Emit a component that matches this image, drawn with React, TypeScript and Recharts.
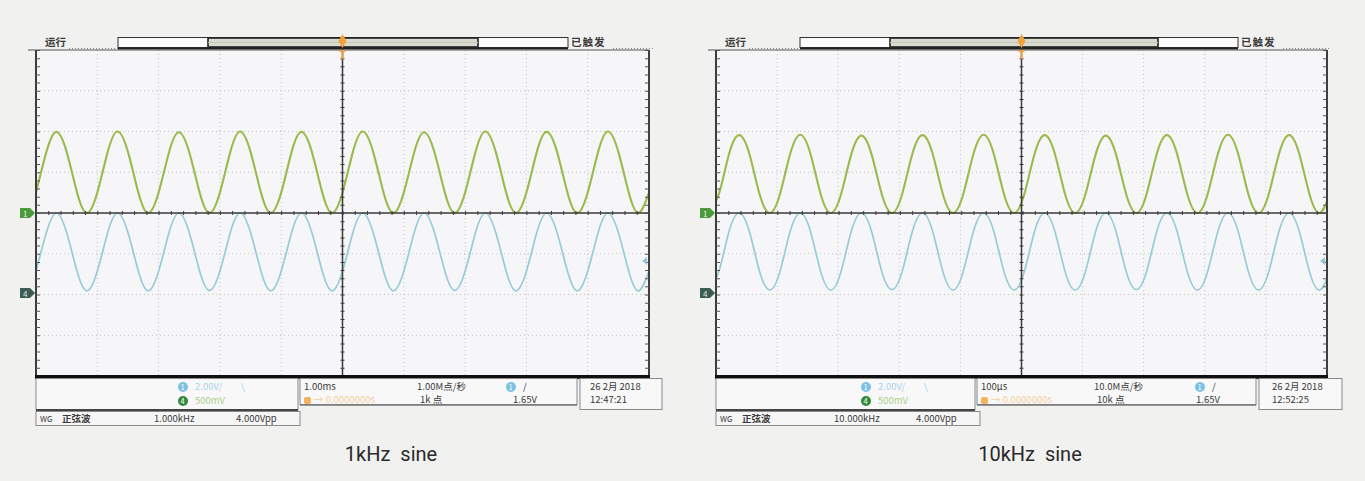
import React from 'react';
import { LineChart, Line, XAxis, YAxis } from 'recharts';

// ---------- data (values in screen divisions, read from the captures) ----------
const time1kHzMs = [
  0, 0.17, 0.33, 0.5, 0.67, 0.83,
  1, 1.17, 1.33, 1.5, 1.67, 1.83,
  2, 2.17, 2.33, 2.5, 2.67, 2.83,
  3, 3.17, 3.33, 3.5, 3.67, 3.83,
  4, 4.17, 4.33, 4.5, 4.67, 4.83,
  5, 5.17, 5.33, 5.5, 5.67, 5.83,
  6, 6.17, 6.33, 6.5, 6.67, 6.83,
  7, 7.17, 7.33, 7.5, 7.67, 7.83,
  8, 8.17, 8.33, 8.5, 8.67, 8.83,
  9, 9.17, 9.33, 9.5, 9.67, 9.83,
  10,
];
const green1kHz = [
  0.5, 1.5, 1.99, 1.5, 0.5, 0,
  0.5, 1.5, 2.0, 1.5, 0.5, 0,
  0.5, 1.49, 1.98, 1.49, 0.5, 0,
  0.5, 1.5, 2.0, 1.5, 0.5, 0,
  0.5, 1.5, 1.99, 1.5, 0.5, 0,
  0.5, 1.5, 2.0, 1.5, 0.5, 0,
  0.5, 1.49, 1.98, 1.49, 0.5, 0,
  0.5, 1.5, 2.0, 1.5, 0.5, 0,
  0.5, 1.5, 1.99, 1.5, 0.5, 0,
  0.5, 1.5, 2.0, 1.5, 0.5, 0,
  0.5,
];
const blue1kHz = [
  -1.43, -0.48, 0, -0.48, -1.43, -1.91,
  -1.43, -0.48, 0, -0.48, -1.43, -1.91,
  -1.43, -0.48, 0, -0.48, -1.43, -1.9,
  -1.43, -0.48, 0, -0.48, -1.43, -1.91,
  -1.43, -0.48, 0, -0.48, -1.43, -1.91,
  -1.43, -0.48, 0, -0.48, -1.43, -1.91,
  -1.43, -0.48, 0, -0.48, -1.43, -1.9,
  -1.43, -0.48, 0, -0.48, -1.43, -1.91,
  -1.43, -0.48, 0, -0.48, -1.43, -1.91,
  -1.43, -0.48, 0, -0.48, -1.43, -1.91,
  -1.43,
];

const time10kHzUs = [
  -12,
  5, 21, 38, 55, 71, 88,
  105, 121, 138, 155, 171, 188,
  205, 221, 238, 255, 271, 288,
  305, 321, 338, 355, 371, 388,
  405, 421, 438, 455, 471, 488,
  505, 521, 538, 555, 571, 588,
  605, 621, 638, 655, 671, 688,
  705, 721, 738, 755, 771, 788,
  805, 821, 838, 855, 871, 888,
  905, 921, 938, 955, 971, 988,
  1005,
];
const green10kHz = [
  0,
  0.48, 1.43, 1.91, 1.43, 0.48, 0,
  0.48, 1.43, 1.92, 1.43, 0.48, 0,
  0.48, 1.42, 1.9, 1.42, 0.48, 0,
  0.48, 1.43, 1.91, 1.43, 0.48, 0,
  0.48, 1.43, 1.92, 1.43, 0.48, 0,
  0.48, 1.43, 1.91, 1.43, 0.48, 0,
  0.48, 1.42, 1.9, 1.42, 0.48, 0,
  0.48, 1.43, 1.91, 1.43, 0.48, 0,
  0.48, 1.43, 1.92, 1.43, 0.48, 0,
  0.48, 1.43, 1.91, 1.43, 0.48, 0,
  0.48,
];
const blue10kHz = [
  -1.89,
  -1.42, -0.47, 0, -0.47, -1.42, -1.89,
  -1.42, -0.47, 0, -0.47, -1.42, -1.89,
  -1.42, -0.47, 0, -0.47, -1.42, -1.88,
  -1.42, -0.47, 0, -0.47, -1.42, -1.89,
  -1.42, -0.47, 0, -0.47, -1.42, -1.89,
  -1.42, -0.47, 0, -0.47, -1.42, -1.89,
  -1.42, -0.47, 0, -0.47, -1.42, -1.88,
  -1.42, -0.47, 0, -0.47, -1.42, -1.89,
  -1.42, -0.47, 0, -0.47, -1.42, -1.89,
  -1.42, -0.47, 0, -0.47, -1.42, -1.89,
  -1.42,
];

const captions = ['1kHz  sine', '10kHz  sine'];
const runLabel = '运行';
const trigLabel = '已触发';
const timebases = ['1.00ms', '100µs'];
const sampleRates = ['1.00M点/秒', '10.0M点/秒'];
const pointCounts = ['1k 点', '10k 点'];
const trigLevels = ['1.65V', '1.65V'];
const dates = ['26 2月 2018', '26 2月 2018'];
const clocks = ['12:47:21', '12:52:25'];
const wgShapes = ['正弦波', '正弦波'];
const wgFreqs = ['1.000kHz', '10.000kHz'];
const wgAmps = ['4.000Vpp', '4.000Vpp'];
const chScaleBlue = ['2.00V/', '2.00V/'];
const chScaleGreen = ['500mV', '500mV'];
const delayText = ['→ 0.0000000s', '→ 0.0000000s'];

// ---------- layout ----------
const H_DIVS = 10;
const V_DIVS = 8;

type Cfg = {
  i: number;
  x0: number; y0: number; w: number; h: number;
  time: number[]; green: number[]; blue: number[];
  domain: [number, number];
  bar: [number, number]; seg: [number, number];
  boxA: [number, number]; boxB: [number, number]; boxC: [number, number]; boxD: [number, number];
  circA: number; circB: number; levelX: number; dateX: number;
  captionX: number;
};

const panels: Cfg[] = [
  {
    i: 0, x0: 36, y0: 50, w: 613, h: 326,
    time: time1kHzMs, green: green1kHz, blue: blue1kHz,
    domain: [0, 10],
    bar: [118, 568], seg: [208, 478],
    boxA: [36, 298], boxB: [300, 577], boxC: [580, 662], boxD: [36, 300],
    circA: 183, circB: 511, levelX: 513, dateX: 590,
    captionX: 391,
  },
  {
    i: 1, x0: 716, y0: 50, w: 611, h: 326,
    time: time10kHzUs, green: green10kHz, blue: blue10kHz,
    domain: [0, 1000],
    bar: [800, 1238], seg: [890, 1158],
    boxA: [716, 975], boxB: [977, 1256], boxC: [1259, 1342], boxD: [716, 980],
    circA: 866, circB: 1200, levelX: 1196, dateX: 1272,
    captionX: 1030,
  },
];

const SCOPE_FONT = '"Noto Sans CJK SC", "Noto Sans", sans-serif';
const TXT = '#3a3a3a';

function ScopeChart({ c }: { c: Cfg }) {
  const data = c.time.map((t, k) => ({ t, g: c.green[k], b: c.blue[k] }));
  return (
    <div style={{ position: 'absolute', left: c.x0, top: c.y0, width: c.w, height: c.h }}>
      <LineChart width={c.w} height={c.h} data={data} margin={{ top: 0, right: 0, bottom: 0, left: 0 }}>
        <XAxis type="number" dataKey="t" domain={c.domain} allowDataOverflow hide />
        <YAxis type="number" domain={[-4, 4]} allowDataOverflow hide />
        <Line dataKey="b" type="natural" stroke="#95ccd6" strokeWidth={1.7} dot={false} isAnimationActive={false} />
        <Line dataKey="g" type="natural" stroke="#9aba4c" strokeWidth={2.1} dot={false} isAnimationActive={false} />
      </LineChart>
    </div>
  );
}

// graticule drawn under the traces
function Graticule({ c }: { c: Cfg }) {
  const { x0, y0, w, h } = c;
  const dx = w / H_DIVS;
  const dy = h / V_DIVS;
  const v = Array.from({ length: H_DIVS - 1 }, (_, k) => x0 + dx * (k + 1)).filter((_, k) => k !== 4);
  const hz = Array.from({ length: V_DIVS - 1 }, (_, k) => y0 + dy * (k + 1)).filter((_, k) => k !== 3);
  return (
    <g>
      <rect x={x0} y={y0} width={w} height={h} fill="#f6f6f8" />
      {v.map((x) => (
        <line key={'v' + x} x1={x} y1={y0} x2={x} y2={y0 + h} stroke="#c0c2c7" strokeDasharray="1 3" />
      ))}
      {hz.map((y) => (
        <line key={'h' + y} x1={x0} y1={y} x2={x0 + w} y2={y} stroke="#c0c2c7" strokeDasharray="1 3" />
      ))}
    </g>
  );
}

function Chrome({ c }: { c: Cfg }) {
  const { x0, y0, w, h, i } = c;
  const cx = x0 + w / 2;
  const cy = y0 + h / 2;
  const yb = y0 + h;
  const t = { fontFamily: SCOPE_FONT, fontSize: 9.5, fill: TXT } as const;
  return (
    <g>
      {/* status row */}
      <text x={x0 + 9} y={46} {...t} fontSize={10.5} fontWeight={700}>{runLabel}</text>
      <line x1={x0 + 33} y1={48.5} x2={c.bar[0]} y2={48.5} stroke="#8a8a8a" strokeDasharray="1 2" />
      <rect x={c.bar[0]} y={37.5} width={c.bar[1] - c.bar[0]} height={10} fill="#fbfbfb" stroke="#333" />
      <rect x={c.seg[0]} y={38} width={c.seg[1] - c.seg[0]} height={9} fill="#d8dbcf" stroke="#222" strokeWidth={1.6} />
      <line x1={c.seg[0]} y1={42.5} x2={c.seg[1]} y2={42.5} stroke="#c4c8b8" />
      <line x1={c.bar[0]} y1={48.5} x2={c.bar[1]} y2={48.5} stroke="#222" strokeWidth={2} />
      <text x={c.bar[1] + 3} y={46} {...t} fontSize={10.5} fontWeight={700} letterSpacing={1}>{trigLabel}</text>
      <line x1={c.bar[1] + 45} y1={48.5} x2={x0 + w + 4} y2={48.5} stroke="#8a8a8a" strokeDasharray="1 2" />

      {/* graticule centre lines */}
      <line x1={cx} y1={48} x2={cx} y2={yb} stroke="#3a3a3a" strokeWidth={1.5} />
      <line x1={cx} y1={y0} x2={cx} y2={yb} stroke="#3a3a3a" strokeWidth={4} strokeDasharray="1 7.15" />
      <line x1={x0} y1={cy} x2={x0 + w} y2={cy} stroke="#3a3a3a" strokeWidth={1.5} />
      <line x1={x0} y1={cy} x2={x0 + w} y2={cy} stroke="#3a3a3a" strokeWidth={4} strokeDasharray="1 11.26" />

      {/* frame */}
      <line x1={x0 - 8} y1={y0} x2={x0 + w} y2={y0} stroke="#555" />
      <line x1={x0} y1={y0} x2={x0} y2={yb} stroke="#3c3c3c" strokeWidth={2} />
      <line x1={x0 + 2} y1={y0} x2={x0 + 2} y2={yb} stroke="#555" strokeWidth={4} strokeDasharray="1 7.15" />
      <line x1={x0 + w} y1={y0} x2={x0 + w} y2={yb} stroke="#3c3c3c" strokeWidth={2} />
      <line x1={x0 + w - 2} y1={y0} x2={x0 + w - 2} y2={yb} stroke="#555" strokeWidth={4} strokeDasharray="1 7.15" />
      <rect x={x0 - 1} y={yb - 1} width={w + 2} height={4} fill="#111" />

      {/* trigger marker */}
      <path d={`M${cx} 34 L${cx + 4} 41 L${cx} 48 L${cx - 4} 41 Z`} fill="#f2a23a" />
      <path d={`M${cx - 3} 51 L${cx + 3} 51 M${cx} 51 L${cx} 59`} stroke="#f0a040" strokeWidth={2} />

      {/* channel markers */}
      <path d={`M${x0 - 16} ${cy - 5} h10 l5 5 l-5 5 h-10 z`} fill="#4b9b3d" />
      <text x={x0 - 13} y={cy + 3.5} fontFamily={SCOPE_FONT} fontSize={8} fill="#e8f5e0">1</text>
      <path d={`M${x0 - 16} ${cy + 75} h10 l5 5 l-5 5 h-10 z`} fill="#3e5d52" />
      <text x={x0 - 13} y={cy + 83.5} fontFamily={SCOPE_FONT} fontSize={8} fill="#dfe9e4">4</text>
      <path d={`M${x0 + w - 2} ${cy + 44} l-5 4 l5 4 z`} fill="#8ecad5" />

      {/* box A : channel scales */}
      <rect x={c.boxA[0]} y={378.5} width={c.boxA[1] - c.boxA[0]} height={31} fill="#f8f8f8" stroke="#8a8a8a" />
      <circle cx={c.circA} cy={387} r={5} fill="#7cc1e4" />
      <text x={c.circA - 2.5} y={390} fontFamily={SCOPE_FONT} fontSize={7.5} fill="#fff">1</text>
      <text x={c.circA + 12} y={390} {...t} fill="#a9d2ea">{chScaleBlue[i]}</text>
      <text x={c.circA + 58} y={390} {...t} fill="#9ccbe6">\</text>
      <circle cx={c.circA} cy={401} r={5} fill="#2f8a3a" />
      <text x={c.circA - 2.5} y={404} fontFamily={SCOPE_FONT} fontSize={7.5} fill="#fff">4</text>
      <text x={c.circA + 12} y={404} {...t} fill="#a8d08c">{chScaleGreen[i]}</text>
      <line x1={c.boxA[0]} y1={410} x2={c.boxA[1]} y2={410} stroke="#444" strokeWidth={2} />

      {/* box B : timebase / trigger */}
      <rect x={c.boxB[0]} y={378.5} width={c.boxB[1] - c.boxB[0]} height={26} fill="#f8f8f8" stroke="#8a8a8a" />
      <line x1={c.boxB[0]} y1={405} x2={c.boxB[1]} y2={405} stroke="#777" strokeWidth={1.5} />
      <text x={c.boxB[0] + 4} y={390} {...t}>{timebases[i]}</text>
      <text x={c.boxB[0] + 117} y={390} {...t}>{sampleRates[i]}</text>
      <circle cx={c.circB} cy={387} r={5} fill="#7cc1e4" />
      <text x={c.circB - 2.5} y={390} fontFamily={SCOPE_FONT} fontSize={7.5} fill="#fff">1</text>
      <text x={c.circB + 12} y={390} {...t}>/</text>
      <rect x={c.boxB[0] + 4} y={397} width={7} height={7} rx={2} fill="#f3b25e" />
      <text x={c.boxB[0] + 14} y={403} {...t} fill="#f4cf9f">{delayText[i]}</text>
      <text x={c.boxB[0] + 120} y={403} {...t}>{pointCounts[i]}</text>
      <text x={c.levelX} y={403} {...t}>{trigLevels[i]}</text>

      {/* box C : date / time */}
      <rect x={c.boxC[0]} y={378.5} width={c.boxC[1] - c.boxC[0]} height={31} fill="#f8f8f8" stroke="#8a8a8a" />
      <text x={c.dateX} y={390} {...t}>{dates[i]}</text>
      <text x={c.dateX} y={403} {...t}>{clocks[i]}</text>

      {/* box D : wave generator */}
      <rect x={c.boxD[0]} y={411.5} width={c.boxD[1] - c.boxD[0]} height={14} fill="#f6f6f6" stroke="#8a8a8a" />
      <text x={c.boxD[0] + 4} y={422} {...t} fontSize={8}>WG</text>
      <text x={c.boxD[0] + 26} y={422} {...t} fontWeight={700}>{wgShapes[i]}</text>
      <text x={c.boxD[0] + 118} y={422} {...t}>{wgFreqs[i]}</text>
      <text x={c.boxD[0] + 200} y={422} {...t}>{wgAmps[i]}</text>

      {/* caption */}
      <text x={c.captionX} y={461} textAnchor="middle" fontFamily="Roboto, 'Noto Sans', sans-serif"
        fontSize={20} fill="#2a2a2a" style={{ whiteSpace: 'pre' }}>{captions[i]}</text>
    </g>
  );
}

export default function App() {
  return (
    <div style={{ position: 'absolute', left: 0, top: 0, width: 1365, height: 481, background: '#f1f1f0', overflow: 'hidden' }}>
      <svg width={1365} height={481} style={{ position: 'absolute', left: 0, top: 0 }}>
        {panels.map((c) => <Graticule key={c.i} c={c} />)}
      </svg>
      {panels.map((c) => <ScopeChart key={c.i} c={c} />)}
      <svg width={1365} height={481} style={{ position: 'absolute', left: 0, top: 0, pointerEvents: 'none' }}>
        {panels.map((c) => <Chrome key={c.i} c={c} />)}
      </svg>
    </div>
  );
}
